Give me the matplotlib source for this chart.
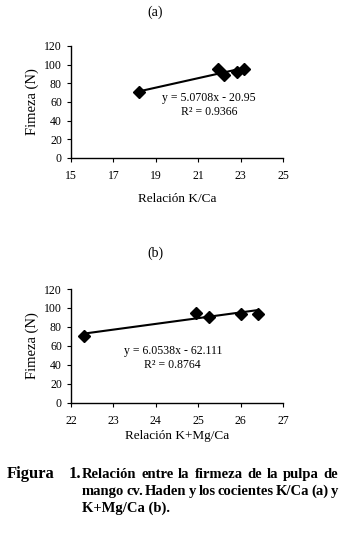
import matplotlib
matplotlib.use("Agg")
import matplotlib.pyplot as plt
import numpy as np

plt.rcParams['font.family'] = ['Liberation Serif', 'DejaVu Serif']

# Data (a): K/Ca ratio vs firmness
kca = [18.2, 21.95, 22.2, 22.85, 23.15]
firm_a = [70.5, 95.0, 89.0, 92.5, 95.0]
# Data (b): K+Mg/Ca ratio vs firmness
kmgca = [22.3, 24.95, 25.25, 26.0, 26.4]
firm_b = [70.5, 94.5, 90.0, 93.5, 94.0]

slope_a, icpt_a = 5.0708, -20.95
slope_b, icpt_b = 6.0538, -62.111

W, H = 344, 540
fig = plt.figure(figsize=(W / 100, H / 100), dpi=100)


def px(x, y):
    return x / W, 1 - y / H


def make_panel(rect, xs, ys, slope, icpt, xlim, xticks, xlabel, title,
               eq, r2, eq_pos, title_y, xlabel_y):
    ax = fig.add_axes(rect)
    ax.plot(xs, ys, 'D', color='black', markersize=6, zorder=3, clip_on=False)
    xl = np.array([min(xs), max(xs)])
    ax.plot(xl, slope * xl + icpt, color='black', lw=1.5)
    ax.set_xlim(*xlim)
    ax.set_ylim(0, 120)
    ax.set_xticks(xticks)
    ax.set_yticks(range(0, 121, 20))
    for s in ['top', 'right']:
        ax.spines[s].set_visible(False)
    for s in ['left', 'bottom']:
        ax.spines[s].set_linewidth(1.0)
    ax.tick_params(direction='out', length=3, width=0.8, labelsize=8.5)
    ax.tick_params(axis='x', pad=6)
    ax.tick_params(axis='y', pad=3.5)
    ax.set_ylabel('Fimeza (N)', fontsize=10.5, labelpad=4)
    ax.text(eq_pos[0], eq_pos[1], eq, ha='center', va='center', fontsize=8.5)
    ax.text(eq_pos[0], eq_pos[2], r2, ha='center', va='center', fontsize=8.5)
    fig.text(*px(155, title_y), title, ha='center', va='center', fontsize=10)
    fig.text(*px(177, xlabel_y), xlabel, ha='center', va='center', fontsize=9.5)
    return ax


make_panel([71 / W, 1 - 158 / H, 212 / W, 112 / H], kca, firm_a, slope_a, icpt_a,
           (15, 25), [15, 17, 19, 21, 23, 25], 'Relación K/Ca', '(a)',
           'y = 5.0708x - 20.95', 'R² = 0.9366', (21.5, 64, 49), 12, 199)
make_panel([71 / W, 1 - 402.7 / H, 212 / W, 113.7 / H], kmgca, firm_b, slope_b, icpt_b,
           (22, 27), [22, 23, 24, 25, 26, 27], 'Relación K+Mg/Ca', '(b)',
           'y = 6.0538x - 62.111', 'R² = 0.8764', (24.4, 55, 40), 253, 436)

# Caption, justified between x=82 and x=338
cap_kw = dict(fontsize=10.5, fontweight='bold', va='baseline')
fig.text(*px(7, 478), 'Figura', ha='left', fontsize=12, fontweight='bold', va='baseline')
fig.text(*px(81, 478), '1.', ha='right', fontsize=12, fontweight='bold', va='baseline')
lines = [('Relación entre la firmeza de la pulpa de', 478, True),
         ('mango cv. Haden y los cocientes K/Ca (a) y', 495, True),
         ('K+Mg/Ca (b).', 512, False)]
fig.canvas.draw()
renderer = fig.canvas.get_renderer()
x0, x1 = 82, 338
for line, ypix, justify in lines:
    words = line.split()
    if not justify:
        fig.text(*px(x0, ypix), line, ha='left', **cap_kw)
        continue
    txts = [fig.text(0, 0, w, ha='left', **cap_kw) for w in words]
    widths = [t.get_window_extent(renderer).width for t in txts]
    gap = (x1 - x0 - sum(widths)) / (len(words) - 1)
    xcur = x0
    for t, w in zip(txts, widths):
        t.set_position(px(xcur, ypix))
        xcur += w + gap

fig.savefig('out.png', dpi=100)
